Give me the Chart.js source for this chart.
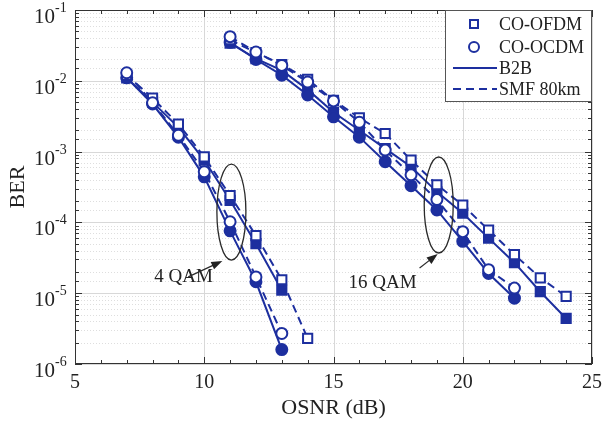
<!DOCTYPE html>
<html>
<head>
<meta charset="utf-8">
<script src="https://cdn.jsdelivr.net/npm/chart.js@4"></script>
<style>
html, body { margin:0; padding:0; background:#fff; }
</style>
</head>
<body>
<canvas id="grafico" width="602" height="421"></canvas>
<script>
"use strict";

/* ===== dados ===== */

const osnr4 = [7, 8, 9, 10, 11, 12, 13, 14];
const ofdm4Smf = [1.2e-2, 5.7e-3, 2.45e-3, 8.4e-4, 2.4e-4, 6.5e-5, 1.55e-5, 2.3e-6];
const ofdm4B2b = [1.1e-2, 5.0e-3, 2.2e-3, 7.6e-4, 2.05e-4, 5.0e-5, 1.1e-5, null];
const ocdm4Smf = [1.3e-2, 4.9e-3, 1.7e-3, 5.2e-4, 1.02e-4, 1.7e-5, 2.7e-6, null];
const ocdm4B2b = [1.1e-2, 4.7e-3, 1.6e-3, 4.4e-4, 7.6e-5, 1.45e-5, 1.6e-6, null];

const osnr16 = [11, 12, 13, 14, 15, 16, 17, 18, 19, 20, 21, 22, 23, 24];
const ofdm16Smf = [3.8e-2, 2.5e-2, 1.7e-2, 1.05e-2, 5.3e-3, 3.0e-3, 1.8e-3, 7.6e-4, 3.4e-4, 1.75e-4, 7.8e-5, 3.5e-5, 1.65e-5, 9.0e-6];
const ofdm16B2b = [3.4e-2, 2.05e-2, 1.4e-2, 7.5e-3, 3.6e-3, 2.0e-3, 1.1e-3, 6.1e-4, 2.7e-4, 1.35e-4, 6.0e-5, 2.7e-5, 1.05e-5, 4.4e-6];
const ocdm16Smf = [4.2e-2, 2.55e-2, 1.65e-2, 9.6e-3, 5.2e-3, 2.6e-3, 1.05e-3, 4.7e-4, 2.1e-4, 7.4e-5, 2.15e-5, 1.18e-5, null, null];
const ocdm16B2b = [3.5e-2, 2.0e-2, 1.2e-2, 6.3e-3, 3.1e-3, 1.6e-3, 7.2e-4, 3.3e-4, 1.5e-4, 5.4e-5, 1.9e-5, 8.5e-6, null, null];

const xTicksMajor = [5, 10, 15, 20, 25];
const legendLabels = ["CO-OFDM", "CO-OCDM", "B2B", "SMF 80km"];

// anotacoes em coordenadas de dados: elipse, texto, seta (cauda -> ponta)
const notes = [
    { label: "4 QAM", center: [11.05, 1.4e-4], text: [9.2, 1.7e-5], tail: [9.38, 1.7e-5], tip: [10.7, 2.85e-5] },
    { label: "16 QAM", center: [19.07, 1.76e-4], text: [16.9, 1.4e-5], tail: [18.33, 2.27e-5], tip: [19.03, 3.58e-5] }
];

/* ===== estilo ===== */

const AZUL = "#1d2f9f";
const SERIF = "'Liberation Serif', 'Times New Roman', serif";

function serie(xs, ys, forma, cheio, tracejado){

    return {
        data: xs.map(function(x, i){ return { x: x, y: ys[i] }; })
                .filter(function(p){ return p.y != null; }),
        borderColor: AZUL,
        backgroundColor: cheio ? AZUL : "#fff",
        pointBackgroundColor: cheio ? AZUL : "#fff",
        pointBorderColor: AZUL,
        pointStyle: forma,
        pointRadius: forma === "rect" ? 6.5 : 5.5,
        pointBorderWidth: 2,
        borderWidth: 2,
        borderDash: tracejado ? [8, 5] : [],
        tension: 0,
        fill: false
    };

}

function ehPot10(v){

    const l = Math.log10(v);
    return Math.abs(l - Math.round(l)) < 1e-6;

}

/* ===== plugin de desenho ===== */

const extras = {

    id: "extras",

    beforeDatasetsDraw: function(chart){

        const ctx = chart.ctx;
        const a = chart.chartArea;
        const sx = chart.scales.x;
        const sy = chart.scales.y;

        ctx.save();
        ctx.lineWidth = 1;

        sy.ticks.forEach(function(t){
            const py = Math.round(sy.getPixelForValue(t.value)) + 0.5;
            if(ehPot10(t.value)){
                ctx.setLineDash([]);
                ctx.strokeStyle = "#d8d8d8";
            }else{
                ctx.setLineDash([1, 2]);
                ctx.strokeStyle = "#dedede";
            }
            ctx.beginPath();
            ctx.moveTo(a.left, py);
            ctx.lineTo(a.right, py);
            ctx.stroke();
        });

        ctx.setLineDash([]);
        ctx.strokeStyle = "#d8d8d8";
        xTicksMajor.forEach(function(v){
            const px = Math.round(sx.getPixelForValue(v)) + 0.5;
            ctx.beginPath();
            ctx.moveTo(px, a.top);
            ctx.lineTo(px, a.bottom);
            ctx.stroke();
        });

        ctx.restore();

    },

    afterDraw: function(chart){

        const ctx = chart.ctx;
        const a = chart.chartArea;
        const sx = chart.scales.x;
        const sy = chart.scales.y;

        ctx.save();

        // caixa
        ctx.strokeStyle = "#333";
        ctx.lineWidth = 1;
        ctx.strokeRect(a.left + 0.5, a.top + 0.5, a.right - a.left - 1, a.bottom - a.top - 1);

        // marcas x
        for(let v = 5; v <= 25; v++){
            const px = Math.round(sx.getPixelForValue(v)) + 0.5;
            const len = v % 5 === 0 ? 7 : 4;
            ctx.beginPath();
            ctx.moveTo(px, a.bottom); ctx.lineTo(px, a.bottom - len);
            ctx.moveTo(px, a.top); ctx.lineTo(px, a.top + len);
            ctx.stroke();
        }

        // marcas y + rotulos
        sy.ticks.forEach(function(t){
            const py = Math.round(sy.getPixelForValue(t.value)) + 0.5;
            const maior = ehPot10(t.value);
            const len = maior ? 7 : 4;
            ctx.beginPath();
            ctx.moveTo(a.left, py); ctx.lineTo(a.left + len, py);
            ctx.moveTo(a.right, py); ctx.lineTo(a.right - len, py);
            ctx.stroke();
            if(maior){
                const ex = Math.round(Math.log10(t.value));
                ctx.fillStyle = "#222";
                ctx.textAlign = "right";
                ctx.textBaseline = "alphabetic";
                ctx.font = "21px " + SERIF;
                ctx.fillText("10", a.left - 20, py + 12);
                ctx.textAlign = "left";
                ctx.font = "14px " + SERIF;
                ctx.fillText(String(ex), a.left - 20, py + 1);
            }
        });

        // elipses, textos e setas
        notes.forEach(function(n){
            const cx = sx.getPixelForValue(n.center[0]);
            const cy = sy.getPixelForValue(n.center[1]);
            ctx.strokeStyle = "#2a2a2a";
            ctx.lineWidth = 1.3;
            ctx.beginPath();
            ctx.ellipse(cx, cy, 14.5, 48, 0, 0, Math.PI * 2);
            ctx.stroke();

            ctx.fillStyle = "#222";
            ctx.font = "19px " + SERIF;
            ctx.textAlign = "center";
            ctx.textBaseline = "middle";
            ctx.fillText(n.label, sx.getPixelForValue(n.text[0]), sy.getPixelForValue(n.text[1]));

            const x0 = sx.getPixelForValue(n.tail[0]);
            const y0 = sy.getPixelForValue(n.tail[1]);
            const x1 = sx.getPixelForValue(n.tip[0]);
            const y1 = sy.getPixelForValue(n.tip[1]);
            const ang = Math.atan2(y1 - y0, x1 - x0);
            ctx.lineWidth = 1.2;
            ctx.beginPath();
            ctx.moveTo(x0, y0);
            ctx.lineTo(x1 - 8 * Math.cos(ang), y1 - 8 * Math.sin(ang));
            ctx.stroke();
            ctx.beginPath();
            ctx.moveTo(x1, y1);
            ctx.lineTo(x1 - 11 * Math.cos(ang) + 4 * Math.sin(ang), y1 - 11 * Math.sin(ang) - 4 * Math.cos(ang));
            ctx.lineTo(x1 - 11 * Math.cos(ang) - 4 * Math.sin(ang), y1 - 11 * Math.sin(ang) + 4 * Math.cos(ang));
            ctx.closePath();
            ctx.fill();
        });

        // legenda
        const lw = 147, lh = 92;
        const lx = a.right - lw, ly = a.top;
        ctx.fillStyle = "#fff";
        ctx.fillRect(lx, ly, lw, lh);
        ctx.strokeStyle = "#555";
        ctx.lineWidth = 1;
        ctx.strokeRect(lx + 0.5, ly + 0.5, lw - 1, lh - 1);

        const rowY = [14, 37, 58, 79];
        const mx = lx + 29;
        ctx.strokeStyle = AZUL;
        ctx.lineWidth = 2;
        ctx.fillStyle = "#fff";
        ctx.strokeRect(mx - 4, ly + rowY[0] - 4, 8, 8);
        ctx.beginPath();
        ctx.arc(mx, ly + rowY[1], 5, 0, Math.PI * 2);
        ctx.fill();
        ctx.stroke();

        ctx.beginPath();
        ctx.moveTo(lx + 8, ly + rowY[2]);
        ctx.lineTo(lx + 52, ly + rowY[2]);
        ctx.stroke();
        ctx.setLineDash([8, 5]);
        ctx.beginPath();
        ctx.moveTo(lx + 8, ly + rowY[3]);
        ctx.lineTo(lx + 52, ly + rowY[3]);
        ctx.stroke();
        ctx.setLineDash([]);

        ctx.fillStyle = "#222";
        ctx.font = "18px " + SERIF;
        ctx.textAlign = "left";
        ctx.textBaseline = "middle";
        legendLabels.forEach(function(txt, i){
            ctx.fillText(txt, lx + 54, ly + rowY[i] + 1);
        });

        ctx.restore();

    }

};

/* ===== grafico ===== */

new Chart(document.getElementById("grafico"), {

    type: "line",

    data: {
        datasets: [
            serie(osnr4, ocdm4Smf, "circle", false, true),
            serie(osnr4, ofdm4Smf, "rect", false, true),
            serie(osnr16, ocdm16Smf, "circle", false, true),
            serie(osnr16, ofdm16Smf, "rect", false, true),
            serie(osnr4, ocdm4B2b, "circle", true, false),
            serie(osnr4, ofdm4B2b, "rect", true, false),
            serie(osnr16, ocdm16B2b, "circle", true, false),
            serie(osnr16, ofdm16B2b, "rect", true, false)
        ]
    },

    options: {

        responsive: false,
        animation: false,
        layout: { padding: { left: 0, right: 10, top: 10, bottom: 0 } },

        plugins: {
            legend: { display: false },
            tooltip: { enabled: false }
        },

        scales: {

            x: {
                type: "linear",
                min: 5,
                max: 25,
                afterFit: function(s){
                    s.height = 57;
                    s.paddingLeft = 0;
                    s.paddingRight = 0;
                },
                afterBuildTicks: function(s){
                    s.ticks = xTicksMajor.map(function(v){ return { value: v }; });
                },
                ticks: {
                    autoSkip: false,
                    maxRotation: 0,
                    padding: 7,
                    color: "#222",
                    font: { family: SERIF, size: 20 }
                },
                grid: { drawOnChartArea: false, drawTicks: false },
                border: { display: false },
                title: {
                    display: true,
                    text: "OSNR (dB)",
                    color: "#222",
                    font: { family: SERIF, size: 22 },
                    padding: { top: 0, bottom: 0 }
                }
            },

            y: {
                type: "logarithmic",
                min: 1e-6,
                max: 1e-1,
                afterFit: function(s){ s.width = 75; },
                ticks: { display: false, autoSkip: false },
                grid: { drawOnChartArea: false, drawTicks: false },
                border: { display: false },
                title: {
                    display: true,
                    text: "BER",
                    color: "#222",
                    font: { family: SERIF, size: 22 },
                    padding: { top: 5, bottom: 4 }
                }
            }

        }

    },

    plugins: [extras]

});
</script>
</body>
</html>
